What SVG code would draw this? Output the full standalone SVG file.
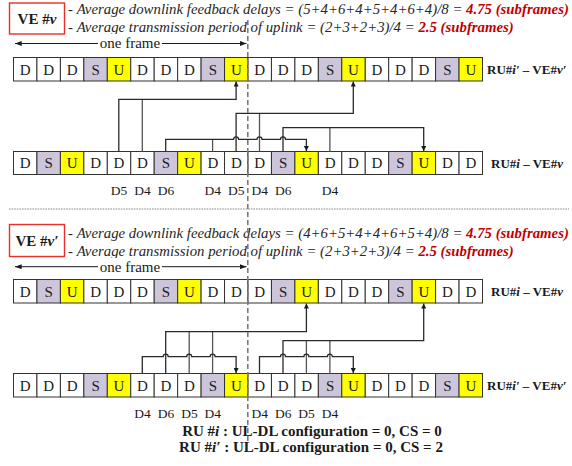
<svg xmlns="http://www.w3.org/2000/svg" width="572" height="466" viewBox="0 0 572 466">
  <style>
    text { font-family: "Liberation Serif", "Times New Roman", serif; fill: #1a1a1a; }
    .hdr { font-size: 14.8px; font-style: italic; fill: #262626; }
    .red { fill: #c00000; font-weight: bold; }
    .ve { font-size: 15px; font-weight: bold; text-anchor: middle; }
    .frame { font-size: 15px; text-anchor: middle; }
    .cell { stroke: #333; stroke-width: 1; }
    .d { fill: #ffffff; }
    .s { fill: #cdc6da; }
    .u { fill: #ffff00; }
    .lt { font-size: 15px; text-anchor: middle; }
    .lbl { font-size: 13px; font-weight: bold; }
    .dl { font-size: 13.5px; text-anchor: middle; }
    .cfg { font-size: 15px; font-weight: bold; text-anchor: middle; }
    .conn { fill: none; stroke: #2a2a2a; stroke-width: 1.3; }
    .src { fill: none; stroke: #555; stroke-width: 1.3; }
    .veBox { fill: #fff; stroke: #e8302a; stroke-width: 1.4; }
  </style>
  <defs>
    <marker id="arr" viewBox="0 0 6 6" refX="6" refY="3" markerWidth="5" markerHeight="5" markerUnits="userSpaceOnUse" orient="auto">
      <path d="M0,0 L6,3 L0,6 z" fill="#1a1a1a"/>
    </marker>
    <marker id="fa" viewBox="0 0 8 6" refX="8" refY="3" markerWidth="7" markerHeight="5" markerUnits="userSpaceOnUse" orient="auto">
      <path d="M0,0 L8,3 L0,6 z" fill="#1a1a1a"/>
    </marker>
    <marker id="fs" viewBox="0 0 8 6" refX="0" refY="3" markerWidth="7" markerHeight="5" markerUnits="userSpaceOnUse" orient="auto">
      <path d="M8,0 L0,3 L8,6 z" fill="#1a1a1a"/>
    </marker>
  </defs>

  <!-- ===== Upper case: VE #v ===== -->
  <g id="ve-v">
    <rect class="veBox" x="9.5" y="3" width="55" height="31"/>
    <text class="ve" x="37" y="24">VE #<tspan font-style="italic">v</tspan></text>
  </g>
  <g id="ve-v-stats">
    <text class="hdr" x="68" y="14"><tspan font-style="normal">- </tspan>Average downlink feedback delays = (5+4+6+4+5+4+6+4)/8 = <tspan class="red">4.75 (subframes)</tspan></text>
    <text class="hdr" x="68" y="31.5"><tspan font-style="normal">- </tspan>Average transmission period of uplink = (2+3+2+3)/4 = <tspan class="red">2.5 (subframes)</tspan></text>
  </g>
  <g id="frame-top">
    <line x1="15" y1="43.5" x2="246.5" y2="43.5" stroke="#1a1a1a" stroke-width="1" marker-start="url(#fs)" marker-end="url(#fa)"/>
    <rect x="98" y="34" width="64" height="16" fill="#fff"/>
    <text class="frame" x="130" y="48">one frame</text>
  </g>

  <!-- Row 1: RU#i' - VE#v' (D D D S U repeated) -->
  <g id="row1">
    <rect class="cell d" x="13.5" y="57.5" width="23.45" height="23.5"/>
    <rect class="cell d" x="36.95" y="57.5" width="23.45" height="23.5"/>
    <rect class="cell d" x="60.4" y="57.5" width="23.45" height="23.5"/>
    <rect class="cell s" x="83.85" y="57.5" width="23.45" height="23.5"/>
    <rect class="cell u" x="107.3" y="57.5" width="23.45" height="23.5"/>
    <rect class="cell d" x="130.75" y="57.5" width="23.45" height="23.5"/>
    <rect class="cell d" x="154.2" y="57.5" width="23.45" height="23.5"/>
    <rect class="cell d" x="177.65" y="57.5" width="23.45" height="23.5"/>
    <rect class="cell s" x="201.1" y="57.5" width="23.45" height="23.5"/>
    <rect class="cell u" x="224.55" y="57.5" width="23.45" height="23.5"/>
    <rect class="cell d" x="248" y="57.5" width="23.45" height="23.5"/>
    <rect class="cell d" x="271.45" y="57.5" width="23.45" height="23.5"/>
    <rect class="cell d" x="294.9" y="57.5" width="23.45" height="23.5"/>
    <rect class="cell s" x="318.35" y="57.5" width="23.45" height="23.5"/>
    <rect class="cell u" x="341.8" y="57.5" width="23.45" height="23.5"/>
    <rect class="cell d" x="365.25" y="57.5" width="23.45" height="23.5"/>
    <rect class="cell d" x="388.7" y="57.5" width="23.45" height="23.5"/>
    <rect class="cell d" x="412.15" y="57.5" width="23.45" height="23.5"/>
    <rect class="cell s" x="435.6" y="57.5" width="23.45" height="23.5"/>
    <rect class="cell u" x="459.05" y="57.5" width="23.45" height="23.5"/>
    <text class="lt" y="74.5"><tspan x="25.2">D</tspan><tspan x="48.7">D</tspan><tspan x="72.1">D</tspan><tspan x="95.6">S</tspan><tspan x="119">U</tspan><tspan x="142.5">D</tspan><tspan x="165.9">D</tspan><tspan x="189.4">D</tspan><tspan x="212.8">S</tspan><tspan x="236.3">U</tspan><tspan x="259.7">D</tspan><tspan x="283.2">D</tspan><tspan x="306.6">D</tspan><tspan x="330.1">S</tspan><tspan x="353.5">U</tspan><tspan x="377">D</tspan><tspan x="400.4">D</tspan><tspan x="423.9">D</tspan><tspan x="447.3">S</tspan><tspan x="470.8">U</tspan></text>
    <text class="lbl" x="487" y="74">RU#<tspan font-style="italic">i′</tspan> – VE#<tspan font-style="italic">v′</tspan></text>
  </g>

  <!-- Row 2: RU#i - VE#v (D S U D D repeated) -->
  <g id="row2">
    <rect class="cell d" x="13.5" y="151.5" width="23.45" height="23"/>
    <rect class="cell s" x="36.95" y="151.5" width="23.45" height="23"/>
    <rect class="cell u" x="60.4" y="151.5" width="23.45" height="23"/>
    <rect class="cell d" x="83.85" y="151.5" width="23.45" height="23"/>
    <rect class="cell d" x="107.3" y="151.5" width="23.45" height="23"/>
    <rect class="cell d" x="130.75" y="151.5" width="23.45" height="23"/>
    <rect class="cell s" x="154.2" y="151.5" width="23.45" height="23"/>
    <rect class="cell u" x="177.65" y="151.5" width="23.45" height="23"/>
    <rect class="cell d" x="201.1" y="151.5" width="23.45" height="23"/>
    <rect class="cell d" x="224.55" y="151.5" width="23.45" height="23"/>
    <rect class="cell d" x="248" y="151.5" width="23.45" height="23"/>
    <rect class="cell s" x="271.45" y="151.5" width="23.45" height="23"/>
    <rect class="cell u" x="294.9" y="151.5" width="23.45" height="23"/>
    <rect class="cell d" x="318.35" y="151.5" width="23.45" height="23"/>
    <rect class="cell d" x="341.8" y="151.5" width="23.45" height="23"/>
    <rect class="cell d" x="365.25" y="151.5" width="23.45" height="23"/>
    <rect class="cell s" x="388.7" y="151.5" width="23.45" height="23"/>
    <rect class="cell u" x="412.15" y="151.5" width="23.45" height="23"/>
    <rect class="cell d" x="435.6" y="151.5" width="23.45" height="23"/>
    <rect class="cell d" x="459.05" y="151.5" width="23.45" height="23"/>
    <text class="lt" y="168.3"><tspan x="25.2">D</tspan><tspan x="48.7">S</tspan><tspan x="72.1">U</tspan><tspan x="95.6">D</tspan><tspan x="119">D</tspan><tspan x="142.5">D</tspan><tspan x="165.9">S</tspan><tspan x="189.4">U</tspan><tspan x="212.8">D</tspan><tspan x="236.3">D</tspan><tspan x="259.7">D</tspan><tspan x="283.2">S</tspan><tspan x="306.6">U</tspan><tspan x="330.1">D</tspan><tspan x="353.5">D</tspan><tspan x="377">D</tspan><tspan x="400.4">S</tspan><tspan x="423.9">U</tspan><tspan x="447.3">D</tspan><tspan x="470.8">D</tspan></text>
    <text class="lbl" x="491" y="168">RU#<tspan font-style="italic">i</tspan> – VE#<tspan font-style="italic">v</tspan></text>
  </g>
  <g id="delays-top">
    <text class="dl" y="194.5"><tspan x="119">D5</tspan><tspan x="142.5">D4</tspan><tspan x="165.9">D6</tspan><tspan x="212.8">D4</tspan><tspan x="236.3">D5</tspan><tspan x="259.7">D4</tspan><tspan x="283.2">D6</tspan><tspan x="330.1">D4</tspan></text>
  </g>

  <!-- Upper feedback connectors -->
  <g id="connectors-top">
    <path class="src" d="M142.3,151.5 V99.3"/>
    <path class="conn" d="M118.8,151.5 V99.3 H236.1 V81.5" marker-end="url(#arr)"/>
    <path class="src" d="M259.5,151.5 V113.3"/>
    <path class="conn" d="M236.1,151.5 V113.3 H353.3 V81.5" marker-end="url(#arr)"/>
    <path class="src" d="M329.9,151.5 V127.7"/>
    <path class="conn" d="M283,151.5 V127.7 H423.7 V151" marker-end="url(#arr)"/>
    <path class="src" d="M212.6,151.5 V139.3"/>
    <path class="conn" d="M165.7,151.5 V139.3 H233.6 a2.5,2.5 0 0 1 5,0 H257 a2.5,2.5 0 0 1 5,0 H280.5 a2.5,2.5 0 0 1 5,0 H306.4 V151" marker-end="url(#arr)"/>
  </g>

  <!-- Section separator -->
  <line x1="9" y1="209" x2="569" y2="209" stroke="#8a8a8a" stroke-width="1.2" stroke-dasharray="1.6 1"/>

  <!-- ===== Lower case: VE #v' ===== -->
  <g id="ve-v-prime">
    <rect class="veBox" x="9.5" y="224.5" width="55" height="32"/>
    <text class="ve" x="37" y="246">VE #<tspan font-style="italic">v′</tspan></text>
  </g>
  <g id="ve-v-prime-stats">
    <text class="hdr" x="68" y="238"><tspan font-style="normal">- </tspan>Average downlink feedback delays = (4+6+5+4+4+6+5+4)/8 = <tspan class="red">4.75 (subframes)</tspan></text>
    <text class="hdr" x="68" y="255.5"><tspan font-style="normal">- </tspan>Average transmission period of uplink = (2+3+2+3)/4 = <tspan class="red">2.5 (subframes)</tspan></text>
  </g>
  <g id="frame-bottom">
    <line x1="15" y1="266.7" x2="246.5" y2="266.7" stroke="#1a1a1a" stroke-width="1" marker-start="url(#fs)" marker-end="url(#fa)"/>
    <rect x="98" y="258" width="64" height="15" fill="#fff"/>
    <text class="frame" x="130" y="271.5">one frame</text>
  </g>

  <!-- Row 3: RU#i - VE#v -->
  <g id="row3">
    <rect class="cell d" x="13.5" y="279.5" width="23.45" height="23.5"/>
    <rect class="cell s" x="36.95" y="279.5" width="23.45" height="23.5"/>
    <rect class="cell u" x="60.4" y="279.5" width="23.45" height="23.5"/>
    <rect class="cell d" x="83.85" y="279.5" width="23.45" height="23.5"/>
    <rect class="cell d" x="107.3" y="279.5" width="23.45" height="23.5"/>
    <rect class="cell d" x="130.75" y="279.5" width="23.45" height="23.5"/>
    <rect class="cell s" x="154.2" y="279.5" width="23.45" height="23.5"/>
    <rect class="cell u" x="177.65" y="279.5" width="23.45" height="23.5"/>
    <rect class="cell d" x="201.1" y="279.5" width="23.45" height="23.5"/>
    <rect class="cell d" x="224.55" y="279.5" width="23.45" height="23.5"/>
    <rect class="cell d" x="248" y="279.5" width="23.45" height="23.5"/>
    <rect class="cell s" x="271.45" y="279.5" width="23.45" height="23.5"/>
    <rect class="cell u" x="294.9" y="279.5" width="23.45" height="23.5"/>
    <rect class="cell d" x="318.35" y="279.5" width="23.45" height="23.5"/>
    <rect class="cell d" x="341.8" y="279.5" width="23.45" height="23.5"/>
    <rect class="cell d" x="365.25" y="279.5" width="23.45" height="23.5"/>
    <rect class="cell s" x="388.7" y="279.5" width="23.45" height="23.5"/>
    <rect class="cell u" x="412.15" y="279.5" width="23.45" height="23.5"/>
    <rect class="cell d" x="435.6" y="279.5" width="23.45" height="23.5"/>
    <rect class="cell d" x="459.05" y="279.5" width="23.45" height="23.5"/>
    <text class="lt" y="296.5"><tspan x="25.2">D</tspan><tspan x="48.7">S</tspan><tspan x="72.1">U</tspan><tspan x="95.6">D</tspan><tspan x="119">D</tspan><tspan x="142.5">D</tspan><tspan x="165.9">S</tspan><tspan x="189.4">U</tspan><tspan x="212.8">D</tspan><tspan x="236.3">D</tspan><tspan x="259.7">D</tspan><tspan x="283.2">S</tspan><tspan x="306.6">U</tspan><tspan x="330.1">D</tspan><tspan x="353.5">D</tspan><tspan x="377">D</tspan><tspan x="400.4">S</tspan><tspan x="423.9">U</tspan><tspan x="447.3">D</tspan><tspan x="470.8">D</tspan></text>
    <text class="lbl" x="491" y="296">RU#<tspan font-style="italic">i</tspan> – VE#<tspan font-style="italic">v</tspan></text>
  </g>

  <!-- Row 4: RU#i' - VE#v' -->
  <g id="row4">
    <rect class="cell d" x="13.5" y="373.5" width="23.45" height="23.5"/>
    <rect class="cell d" x="36.95" y="373.5" width="23.45" height="23.5"/>
    <rect class="cell d" x="60.4" y="373.5" width="23.45" height="23.5"/>
    <rect class="cell s" x="83.85" y="373.5" width="23.45" height="23.5"/>
    <rect class="cell u" x="107.3" y="373.5" width="23.45" height="23.5"/>
    <rect class="cell d" x="130.75" y="373.5" width="23.45" height="23.5"/>
    <rect class="cell d" x="154.2" y="373.5" width="23.45" height="23.5"/>
    <rect class="cell d" x="177.65" y="373.5" width="23.45" height="23.5"/>
    <rect class="cell s" x="201.1" y="373.5" width="23.45" height="23.5"/>
    <rect class="cell u" x="224.55" y="373.5" width="23.45" height="23.5"/>
    <rect class="cell d" x="248" y="373.5" width="23.45" height="23.5"/>
    <rect class="cell d" x="271.45" y="373.5" width="23.45" height="23.5"/>
    <rect class="cell d" x="294.9" y="373.5" width="23.45" height="23.5"/>
    <rect class="cell s" x="318.35" y="373.5" width="23.45" height="23.5"/>
    <rect class="cell u" x="341.8" y="373.5" width="23.45" height="23.5"/>
    <rect class="cell d" x="365.25" y="373.5" width="23.45" height="23.5"/>
    <rect class="cell d" x="388.7" y="373.5" width="23.45" height="23.5"/>
    <rect class="cell d" x="412.15" y="373.5" width="23.45" height="23.5"/>
    <rect class="cell s" x="435.6" y="373.5" width="23.45" height="23.5"/>
    <rect class="cell u" x="459.05" y="373.5" width="23.45" height="23.5"/>
    <text class="lt" y="390.5"><tspan x="25.2">D</tspan><tspan x="48.7">D</tspan><tspan x="72.1">D</tspan><tspan x="95.6">S</tspan><tspan x="119">U</tspan><tspan x="142.5">D</tspan><tspan x="165.9">D</tspan><tspan x="189.4">D</tspan><tspan x="212.8">S</tspan><tspan x="236.3">U</tspan><tspan x="259.7">D</tspan><tspan x="283.2">D</tspan><tspan x="306.6">D</tspan><tspan x="330.1">S</tspan><tspan x="353.5">U</tspan><tspan x="377">D</tspan><tspan x="400.4">D</tspan><tspan x="423.9">D</tspan><tspan x="447.3">S</tspan><tspan x="470.8">U</tspan></text>
    <text class="lbl" x="487" y="390">RU#<tspan font-style="italic">i′</tspan> – VE#<tspan font-style="italic">v′</tspan></text>
  </g>
  <g id="delays-bottom">
    <text class="dl" y="418"><tspan x="142.5">D4</tspan><tspan x="165.9">D6</tspan><tspan x="189.4">D5</tspan><tspan x="212.8">D4</tspan><tspan x="259.7">D4</tspan><tspan x="283.2">D6</tspan><tspan x="306.6">D5</tspan><tspan x="330.1">D4</tspan></text>
  </g>

  <!-- Lower feedback connectors -->
  <g id="connectors-bottom">
    <path class="src" d="M189.2,373.5 V331.7 M212.6,373.5 V331.7"/>
    <path class="conn" d="M165.7,373.5 V331.7 H306.4 V303.5" marker-end="url(#arr)"/>
    <path class="src" d="M306.4,373.5 V340.7 M329.9,373.5 V340.7"/>
    <path class="conn" d="M283,373.5 V340.7 H423.7 V303.5" marker-end="url(#arr)"/>
    <path class="conn" d="M142.3,373.5 V356.7 H163.2 a2.5,2.5 0 0 1 5,0 H186.7 a2.5,2.5 0 0 1 5,0 H210.1 a2.5,2.5 0 0 1 5,0 H236.1 V373" marker-end="url(#arr)"/>
    <path class="conn" d="M259.5,373.5 V356.7 H280.5 a2.5,2.5 0 0 1 5,0 H303.9 a2.5,2.5 0 0 1 5,0 H327.4 a2.5,2.5 0 0 1 5,0 H353.3 V373" marker-end="url(#arr)"/>
  </g>

  <!-- Frame boundary -->
  <line x1="247.8" y1="20" x2="247.8" y2="444" stroke="#7a7a7a" stroke-width="1.6" stroke-dasharray="5 3"/>

  <g id="config-notes">
    <text class="cfg" x="312" y="436">RU #<tspan font-style="italic">i</tspan> : UL-DL configuration = 0, CS = 0</text>
    <text class="cfg" x="311" y="452">RU #<tspan font-style="italic">i′</tspan> : UL-DL configuration = 0, CS = 2</text>
  </g>
</svg>
